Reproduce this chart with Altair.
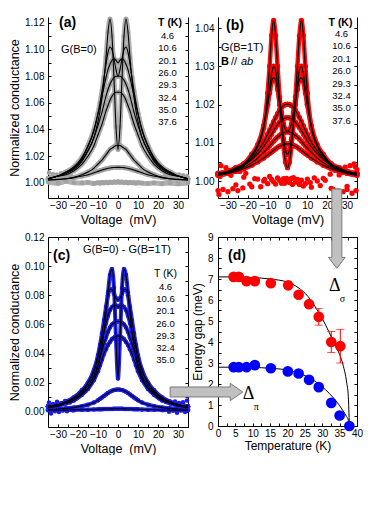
import altair as alt
import pandas as pd

FONT = "Liberation Sans"
SERIF = "Liberation Serif"

# ---------------- voltage grid (one half, mirrored for negative bias) -------------
V_HALF = [0, 1, 2, 3, 4, 5, 6, 7, 8, 9, 10, 12, 15, 18, 22, 26, 30, 35]
V_FULL = [-v for v in V_HALF[:0:-1]] + V_HALF

TEMPS_AB = ["4.6", "10.6", "20.1", "26.0", "29.3", "32.4", "35.0", "37.6"]
TEMPS_C = ["4.6", "10.6", "20.1", "26.0", "29.3", "32.4", "35.0"]

A_4_6 = [1.025, 1.042, 1.078, 1.110, 1.123, 1.113, 1.094, 1.077, 1.064, 1.054, 1.046, 1.034, 1.024, 1.016, 1.010, 1.007, 1.005, 1.003]
A_10_6 = [1.080, 1.085, 1.093, 1.100, 1.102, 1.098, 1.089, 1.079, 1.069, 1.060, 1.052, 1.039, 1.027, 1.018, 1.011, 1.008, 1.005, 1.003]
A_20_1 = [1.090, 1.092, 1.093, 1.092, 1.089, 1.085, 1.079, 1.072, 1.065, 1.058, 1.052, 1.040, 1.028, 1.019, 1.012, 1.008, 1.005, 1.003]
A_26_0 = [1.080, 1.080, 1.079, 1.077, 1.074, 1.070, 1.065, 1.059, 1.053, 1.048, 1.043, 1.034, 1.024, 1.017, 1.011, 1.007, 1.005, 1.003]
A_29_3 = [1.068, 1.068, 1.067, 1.065, 1.062, 1.058, 1.054, 1.049, 1.044, 1.040, 1.036, 1.028, 1.020, 1.014, 1.009, 1.006, 1.005, 1.003]
A_32_4 = [1.028, 1.028, 1.027, 1.026, 1.025, 1.023, 1.021, 1.019, 1.017, 1.0155, 1.014, 1.011, 1.008, 1.006, 1.004, 1.003, 1.0025, 1.002]
A_35_0 = [1.0115, 1.0115, 1.0114, 1.0113, 1.0111, 1.0108, 1.0104, 1.010, 1.0095, 1.009, 1.0085, 1.0075, 1.006, 1.005, 1.0038, 1.003, 1.0024, 1.002]
A_37_6 = [1.0005, 0.9995, 1.001, 1.0, 0.9998, 1.0002, 0.9994, 1.0, 0.9996, 1.0002, 0.9998, 1.0003, 0.9999, 1.0004, 1.0001, 1.0006, 1.0003, 1.0008,
          1.0002, 1.0005, 1.0, 1.0004, 0.9998, 1.0002, 0.9999, 1.0001, 0.9996, 1.0, 0.9997, 0.9994, 0.9998, 0.9993, 0.9997, 0.9992, 0.9999]
A_NOISE_V = [-34.5, -33.5, -32.5, -31.5, -30.5, -29.5, -28.5, -27.5, -26.5, -25.5, -24.5, -23.5,
             23.5, 24.5, 25.5, 26.5, 27.5, 28.5, 29.5, 30.5, 31.5, 32.5, 33.5, 34.5]
A_NOISE_G = [1.0075, 1.004, 1.0065, 1.003, 1.006, 1.0045, 1.007, 1.0035, 1.006, 1.005, 1.0075, 1.0055,
             1.006, 1.0045, 1.007, 1.004, 1.0065, 1.005, 1.0035, 1.006, 1.004, 1.0055, 1.003, 1.005]

B_4_6 = [1.0035, 1.005, 1.009, 1.015, 1.022, 1.030, 1.038, 1.042, 1.038, 1.030, 1.023, 1.014, 1.009, 1.0065, 1.004, 1.003, 1.002, 1.0015]
B_10_6 = [1.007, 1.008, 1.011, 1.015, 1.020, 1.025, 1.029, 1.030, 1.028, 1.024, 1.020, 1.014, 1.009, 1.0065, 1.0045, 1.003, 1.0025, 1.002]
B_20_1 = [1.013, 1.0135, 1.015, 1.018, 1.021, 1.024, 1.0265, 1.027, 1.026, 1.023, 1.020, 1.0145, 1.0095, 1.007, 1.0045, 1.0035, 1.0025, 1.002]
B_26_0 = [1.0201, 1.020, 1.0197, 1.0192, 1.0185, 1.0176, 1.0166, 1.0155, 1.0144, 1.0133, 1.0122, 1.0102, 1.0078, 1.006, 1.0043, 1.0032, 1.0025, 1.0019]
B_29_3 = [1.0166, 1.0165, 1.0163, 1.0159, 1.0154, 1.0147, 1.0140, 1.0132, 1.0123, 1.0115, 1.0106, 1.009, 1.0071, 1.0056, 1.0041, 1.0031, 1.0024, 1.0018]
B_32_4 = [1.0128, 1.0128, 1.0126, 1.0123, 1.0119, 1.0115, 1.0110, 1.0104, 1.0098, 1.0092, 1.0086, 1.0075, 1.006, 1.0048, 1.0036, 1.0028, 1.0022, 1.0017]
B_35_0 = [1.0097, 1.0097, 1.0095, 1.0093, 1.0091, 1.0088, 1.0084, 1.008, 1.0076, 1.0072, 1.0068, 1.006, 1.005, 1.0041, 1.0032, 1.0025, 1.002, 1.0016]
B_37_6 = [0.9975, 1.0022, 0.999, 1.001, 0.9985, 1.0005, 1.0, 0.9993, 1.0012, 1.0004, 0.9998, 0.9992, 1.0008, 1.0002, 0.9994, 1.0006, 1.0003, 1.0001,
          0.9996, 1.0007, 1.0009, 0.9997, 1.0004, 0.9991, 1.0002, 0.9987, 0.9993, 1.0005, 0.9984, 1.0, 1.0007, 0.9981, 1.0016, 0.9986, 1.003]
B_NOISE_V = [-34.5, -33.5, -32.5, -31, -30, -29, -27.5, -26.5, -25, -24, -22.5, -21,
             21.5, 23, 24, 25.5, 26.5, 28, 29, 30, 31.5, 32.5, 33.5, 34.5, -34, -28.5, 27.5, 34,
             -19, -16.5, -13.5, -11.5, 11.5, 13.5, 16.5, 19, -2.5, -1.5, -0.5, 0.5, 1.5, 2.5]
B_NOISE_G = [0.9965, 1.004, 0.9978, 1.0035, 0.9972, 1.0028, 0.998, 1.0032, 0.9975, 1.0025, 0.9982, 1.002,
             1.0018, 0.9978, 1.0028, 0.9974, 1.0033, 0.9972, 1.0036, 0.9978, 1.004, 0.9968, 1.0045, 0.9975, 1.0012, 1.0015, 1.0022, 1.0038,
             0.9992, 1.0006, 0.9985, 1.0004, 0.9996, 1.0008, 0.9988, 1.0002, 1.0003, 0.9994, 1.0007, 0.9998, 1.0005, 0.9991]

C_4_6 = [0.023, 0.050, 0.085, 0.098, 0.094, 0.082, 0.068, 0.055, 0.045, 0.037, 0.031, 0.023, 0.016, 0.012, 0.008, 0.006, 0.004, 0.003]
C_10_6 = [0.077, 0.078, 0.081, 0.084, 0.084, 0.080, 0.072, 0.063, 0.054, 0.046, 0.039, 0.029, 0.020, 0.015, 0.010, 0.007, 0.005, 0.004]
C_20_1 = [0.072, 0.073, 0.073, 0.072, 0.070, 0.066, 0.061, 0.055, 0.049, 0.043, 0.037, 0.028, 0.020, 0.014, 0.010, 0.007, 0.005, 0.004]
C_26_0 = [0.062, 0.062, 0.061, 0.060, 0.058, 0.055, 0.051, 0.047, 0.042, 0.038, 0.033, 0.025, 0.018, 0.013, 0.009, 0.007, 0.005, 0.004]
C_29_3 = [0.052, 0.052, 0.051, 0.050, 0.048, 0.046, 0.043, 0.040, 0.036, 0.032, 0.028, 0.022, 0.016, 0.012, 0.008, 0.006, 0.005, 0.004]
C_32_4 = [0.0155, 0.0153, 0.015, 0.0145, 0.0138, 0.013, 0.012, 0.011, 0.010, 0.009, 0.008, 0.0065, 0.005, 0.004, 0.003, 0.0025, 0.002, 0.0018]
C_35_0 = [0.0022, 0.0022, 0.0022, 0.0021, 0.0021, 0.002, 0.002, 0.002, 0.0019, 0.0019, 0.0018, 0.0017, 0.0016, 0.0015, 0.0014, 0.0013, 0.0012, 0.0012]
C_NOISE_V = [-34.5, -33.5, -32.5, -31.5, -30.5, -29.5, -28.5, -27.5, -26.5, -25.5, -24, -22.5,
             22.5, 24, 25.5, 26.5, 27.5, 28.5, 29.5, 30.5, 31.5, 32.5, 33.5, 34.5]
C_NOISE_G = [0.0065, -0.001, 0.0055, 0.0005, 0.007, 0.0, 0.006, 0.001, 0.0075, 0.0005, 0.0065, 0.001,
             0.0012, 0.0068, 0.0002, 0.0058, 0.0008, 0.0072, -0.0005, 0.0062, 0.001, 0.0067, 0.0, 0.0078]

T_SIG = [4.5, 6.0, 8.2, 10.6, 15.2, 20.2, 23.2, 26.2, 29.0, 32.6, 35.2]
GAP_SIG = [7.1, 7.1, 6.9, 6.9, 6.8, 6.7, 6.25, 5.8, 5.2, 4.0, 3.8]
T_PI = [4.5, 6.0, 8.2, 10.6, 15.2, 20.1, 23.2, 26.2, 29.0, 32.6, 35.0, 37.8]
GAP_PI = [2.8, 2.8, 2.8, 2.9, 2.75, 2.6, 2.5, 2.2, 1.85, 1.1, 0.5, 0.0]
T_ERR = [29.0, 32.6, 35.2]
ERR_LO = [4.8, 3.5, 3.0]
ERR_HI = [5.6, 4.5, 4.6]
T_FIT = [0, 5, 10, 15, 20, 23, 26, 29, 31, 33, 35, 36, 37, 37.5, 37.8]
SIG_FIT = [7.1, 7.1, 7.07, 7.0, 6.85, 6.6, 6.15, 5.4, 4.8, 4.1, 3.4, 2.9, 2.1, 1.4, 0.0]
PI_FIT = [2.8, 2.8, 2.79, 2.75, 2.66, 2.52, 2.33, 2.0, 1.72, 1.38, 0.97, 0.72, 0.45, 0.28, 0.0]

DUMMY = pd.DataFrame({"d": [0]})

W_L, W_R, SP_COL, SP_ROW = 140, 139, 30, 39


def full(h):
    return list(h[:0:-1]) + list(h)


def curves(temps, halves):
    rows = []
    for t, h in zip(temps, halves):
        for v, g in zip(V_FULL, full(h)):
            rows.append({"T": t, "V": v, "G": g})
    return pd.DataFrame(rows)


def flat(temp, vals):
    return pd.DataFrame({"T": temp, "V": V_FULL, "G": vals})


def noise(vs, gs):
    return pd.DataFrame({"T": "n", "V": vs, "G": gs})


def txt(s, x, y, size=10, weight="normal", align="left", baseline="middle", font=FONT, style="normal"):
    return alt.Chart(DUMMY).mark_text(font=font, fontSize=size, fontWeight=weight, align=align,
                                      baseline=baseline, color="black", fontStyle=style).encode(
        x=alt.value(x), y=alt.value(y), text=alt.value(s))


def txt_list(items, x, y0, step, size=9.5, weight="normal"):
    return [txt(s, x, y0 + i * step, size=size, weight=weight, align="center") for i, s in enumerate(items)]


def axis_set(W, H, xmaj, xall, ymaj, yall, xfmt, yfmt, xtitle, ytitle, top_frame,
             lab=10, tsize=12.5, xtp=3, ytp=3, ylp=4, xlp=2):
    common = dict(grid=False, labelFlush=False, labelOverlap=False)
    lab_x = alt.Axis(orient="bottom", values=xmaj, format=xfmt, ticks=False, tickSize=0, domain=True,
                     labelPadding=xlp, labelFontSize=lab, title=xtitle, titleFontSize=tsize,
                     titlePadding=xtp, **common)
    ykw = dict(orient="left", values=ymaj, format=yfmt, ticks=False, tickSize=0, domain=True,
               labelPadding=ylp, labelFontSize=lab, **common)
    if ytitle:
        lab_y = alt.Axis(title=ytitle, titleFontSize=tsize, titlePadding=ytp, **ykw)
    else:
        lab_y = alt.Axis(title=None, **ykw)
    in_x = alt.Axis(orient="top", offset=-H, values=xall, labels=False, domain=False, tickSize=3,
                    title=None, grid=False, minExtent=0)
    in_y = alt.Axis(orient="right", offset=-W, values=yall, labels=False, domain=False, tickSize=3,
                    title=None, grid=False, minExtent=0)
    if top_frame:
        top_x = alt.Axis(orient="bottom", offset=-H, values=xall, labels=False, domain=True, tickSize=3,
                         title=None, grid=False, minExtent=0)
    else:
        top_x = None
    right_y = alt.Axis(orient="left", offset=-W, values=yall, labels=False, domain=True, tickSize=3,
                       title=None, grid=False, minExtent=0)
    return lab_x, lab_y, in_x, in_y, top_x, right_y


def conductance_panel(band_df, fit_df, pts_df, W, H, ydom, ymaj, yall, yfmt, xtitle, ytitle,
                      pcolor, psize, bcolor, bwidth, top_frame, texts):
    xs = alt.Scale(domain=[-35, 35], nice=False, zero=False)
    ys = alt.Scale(domain=ydom, nice=False, zero=False)
    xmaj = [-30, -20, -10, 0, 10, 20, 30]
    xall = [-35, -30, -25, -20, -15, -10, -5, 0, 5, 10, 15, 20, 25, 30, 35]
    lab_x, lab_y, in_x, in_y, top_x, right_y = axis_set(W, H, xmaj, xall, ymaj, yall, "d", yfmt,
                                                       xtitle, ytitle, top_frame)
    band = alt.Chart(band_df).mark_line(color=bcolor, strokeWidth=bwidth, interpolate="monotone").encode(
        x=alt.X("V:Q", scale=xs, axis=top_x), y=alt.Y("G:Q", scale=ys, axis=right_y), detail="T:N")
    pts = alt.Chart(pts_df).mark_circle(color=pcolor, size=psize, opacity=1).encode(
        x=alt.X("V:Q", scale=xs, axis=in_x), y=alt.Y("G:Q", scale=ys, axis=in_y))
    fit = alt.Chart(fit_df).mark_line(color="black", strokeWidth=1.1, interpolate="monotone").encode(
        x=alt.X("V:Q", scale=xs, axis=lab_x), y=alt.Y("G:Q", scale=ys, axis=lab_y), detail="T:N")
    return alt.layer(band, pts, fit, *texts).properties(width=W, height=H).resolve_axis(
        x="independent", y="independent")


# ---------------- panel (a) ---------------------------------------------------------
fa = curves(TEMPS_AB[:7], [A_4_6, A_10_6, A_20_1, A_26_0, A_29_3, A_32_4, A_35_0])
bands_a = pd.concat([fa, flat("37.6", A_37_6)])
ptsa = pd.concat([bands_a, noise(A_NOISE_V, A_NOISE_G)])
texts_a = [
    txt("(a)", 11, 6, size=14, weight="bold"),
    txt("G(B=0)", 13, 33, size=11),
    txt("T (K)", 122, 6, size=10.5, weight="bold", align="center"),
] + txt_list(TEMPS_AB, 119.5, 19, 12.3)
pa = conductance_panel(bands_a, fa, ptsa, W_L, 181, [0.9885, 1.1245],
                       [1.00, 1.02, 1.04, 1.06, 1.08, 1.10, 1.12],
                       [1.00, 1.01, 1.02, 1.03, 1.04, 1.05, 1.06, 1.07, 1.08, 1.09, 1.10, 1.11, 1.12],
                       ".2f", "Voltage\u00a0 (mV)", "Normalized conductance",
                       "#a2a2a2", 22, "#b0b0b0", 5, False, texts_a)

# ---------------- panel (b) ---------------------------------------------------------
fb = curves(TEMPS_AB[:7], [B_4_6, B_10_6, B_20_1, B_26_0, B_29_3, B_32_4, B_35_0])
ptsb = pd.concat([fb, flat("37.6", B_37_6), noise(B_NOISE_V, B_NOISE_G)])
texts_b = [
    txt("(b)", 8, 9, size=14, weight="bold"),
    txt("G(B=1T)", 3, 31, size=11),
    txt("B", 3, 45, size=11, weight="bold"),
    txt("//", 13, 45, size=11),
    txt("ab", 23, 45, size=11, style="italic"),
    txt("T (K)", 122.5, 6, size=10.5, weight="bold", align="center"),
] + txt_list(TEMPS_AB, 123.5, 17, 12.4)
pb = conductance_panel(fb, fb, ptsb, W_R, 181, [0.99556, 1.04288],
                       [1.00, 1.01, 1.02, 1.03, 1.04],
                       [0.995, 1.000, 1.005, 1.010, 1.015, 1.020, 1.025, 1.030, 1.035, 1.040],
                       ".2f", "Voltage (mV)", None,
                       "#ff0000", 28, "#ff1010", 4.5, False, texts_b)

# ---------------- panel (c) ---------------------------------------------------------
fc = curves(TEMPS_C, [C_4_6, C_10_6, C_20_1, C_26_0, C_29_3, C_32_4, C_35_0])
ptsc = pd.concat([fc, noise(C_NOISE_V, C_NOISE_G)])
texts_c = [
    txt("(c)", 5, 19, size=14, weight="bold"),
    txt("G(B=0) - G(B=1T)", 35, 13, size=11),
    txt("T (K)", 117.5, 37, size=10.5, align="center"),
] + txt_list(TEMPS_C, 117.5, 50, 12.2)
pc = conductance_panel(fc, fc, ptsc, W_L, 190, [-0.0103, 0.12],
                       [0.00, 0.02, 0.04, 0.06, 0.08, 0.10, 0.12],
                       [-0.01, 0.00, 0.01, 0.02, 0.03, 0.04, 0.05, 0.06, 0.07, 0.08, 0.09, 0.10, 0.11, 0.12],
                       ".2f", "Voltage\u00a0 (mV)", "Normalized conductance",
                       "#1a1af0", 20, "#2424f0", 4, True, texts_c)

# ---------------- panel (d) ---------------------------------------------------------
HD = 189
xs_d = alt.Scale(domain=[0, 40], nice=False, zero=False)
ys_d = alt.Scale(domain=[0, 9], nice=False, zero=False)
lab_x, lab_y, in_x, in_y, top_x, right_y = axis_set(
    W_R, HD, list(range(0, 41, 5)), [i * 2.5 for i in range(17)], list(range(0, 10)),
    [i * 0.5 for i in range(19)], "d", "d", "Temperature (K)", "Energy gap (meV)", True,
    lab=10, tsize=12, xtp=2, ytp=3, ylp=5)

fit_d = pd.concat([
    pd.DataFrame({"g": "s", "T": T_FIT, "E": SIG_FIT}),
    pd.DataFrame({"g": "p", "T": T_FIT, "E": PI_FIT}),
])
sig_df = pd.DataFrame({"T": T_SIG, "E": GAP_SIG})
pi_df = pd.DataFrame({"T": T_PI, "E": GAP_PI})
err_df = pd.DataFrame({"T": T_ERR, "lo": ERR_LO, "hi": ERR_HI})

VERT_ARROW = "M -0.126 -1 L 0.126 -1 L 0.126 0.723 L 0.21 0.723 L 0 1 L -0.21 0.723 L -0.126 0.723 Z"
HORZ_ARROW = "M -1 -0.1375 L 0.651 -0.1375 L 0.651 -0.239 L 1 0 L 0.651 0.239 L 0.651 0.1375 L -1 0.1375 Z"

d_fit = alt.Chart(fit_d).mark_line(color="black", strokeWidth=1, interpolate="monotone").encode(
    x=alt.X("T:Q", scale=xs_d, axis=lab_x), y=alt.Y("E:Q", scale=ys_d, axis=lab_y), detail="g:N")
d_err = alt.Chart(err_df).mark_rule(color="#ff0000", strokeWidth=1).encode(
    x=alt.X("T:Q", scale=xs_d, axis=in_x), y=alt.Y("lo:Q", scale=ys_d, axis=in_y), y2="hi:Q")
d_cap_lo = alt.Chart(err_df).mark_tick(color="#ff0000", orient="horizontal", size=8, thickness=1).encode(
    x=alt.X("T:Q", scale=xs_d, axis=None), y=alt.Y("lo:Q", scale=ys_d, axis=None))
d_cap_hi = alt.Chart(err_df).mark_tick(color="#ff0000", orient="horizontal", size=8, thickness=1).encode(
    x=alt.X("T:Q", scale=xs_d, axis=None), y=alt.Y("hi:Q", scale=ys_d, axis=None))
d_sig = alt.Chart(sig_df).mark_circle(color="#ff0000", size=115, opacity=1).encode(
    x=alt.X("T:Q", scale=xs_d, axis=top_x), y=alt.Y("E:Q", scale=ys_d, axis=right_y))
d_pi = alt.Chart(pi_df).mark_circle(color="#0000ff", size=115, opacity=1).encode(
    x=alt.X("T:Q", scale=xs_d, axis=None), y=alt.Y("E:Q", scale=ys_d, axis=None))

ARROW_V_POS = pd.DataFrame({"T": [34.2], "E": [9.395]})
ARROW_H_POS = pd.DataFrame({"T": [-3.3], "E": [1.62]})
d_arrow_v = alt.Chart(ARROW_V_POS).mark_point(shape=VERT_ARROW, size=6294, filled=True, fill="#c0c0c0",
                                              stroke="#7a7a7a", strokeWidth=1, opacity=1, clip=False).encode(
    x=alt.X("T:Q", scale=xs_d, axis=None), y=alt.Y("E:Q", scale=ys_d, axis=None))
d_arrow_h = alt.Chart(ARROW_H_POS).mark_point(shape=HORZ_ARROW, size=5285, filled=True, fill="#c0c0c0",
                                              stroke="#7a7a7a", strokeWidth=1, opacity=1, clip=False).encode(
    x=alt.X("T:Q", scale=xs_d, axis=None), y=alt.Y("E:Q", scale=ys_d, axis=None))

DELTA_POS = pd.DataFrame({"T": [33.6, 8.8], "E": [6.67, 1.52], "s": ["\u0394", "\u0394"]})
SUB_POS = pd.DataFrame({"T": [35.8, 11.0], "E": [6.05, 0.92], "s": ["\u03c3", "\u03c0"]})
d_delta = alt.Chart(DELTA_POS).mark_text(font=SERIF, fontSize=18, color="black").encode(
    x=alt.X("T:Q", scale=xs_d, axis=None), y=alt.Y("E:Q", scale=ys_d, axis=None), text="s:N")
d_sub = alt.Chart(SUB_POS).mark_text(font=SERIF, fontSize=10, color="black").encode(
    x=alt.X("T:Q", scale=xs_d, axis=None), y=alt.Y("E:Q", scale=ys_d, axis=None), text="s:N")

pdd = alt.layer(d_fit, d_err, d_cap_lo, d_cap_hi, d_sig, d_pi, d_arrow_v, d_arrow_h, d_delta, d_sub,
                txt("(d)", 10, 19, size=14, weight="bold")).properties(width=W_R, height=HD).resolve_axis(
    x="independent", y="independent")

chart = alt.concat(pa, pb, pc, pdd, columns=2, spacing={"row": SP_ROW, "column": SP_COL},
                   bounds="flush").properties(
    padding={"left": 0, "top": 0, "right": 0, "bottom": 0}
).configure_view(strokeWidth=0).configure_axis(
    labelFont=FONT, titleFont=FONT, labelColor="black", titleColor="black", titleFontWeight="normal",
    domainColor="black", tickColor="black", domainWidth=1, tickWidth=1
)

chart.save("out.html", embed_options={"renderer": "svg", "actions": False})
